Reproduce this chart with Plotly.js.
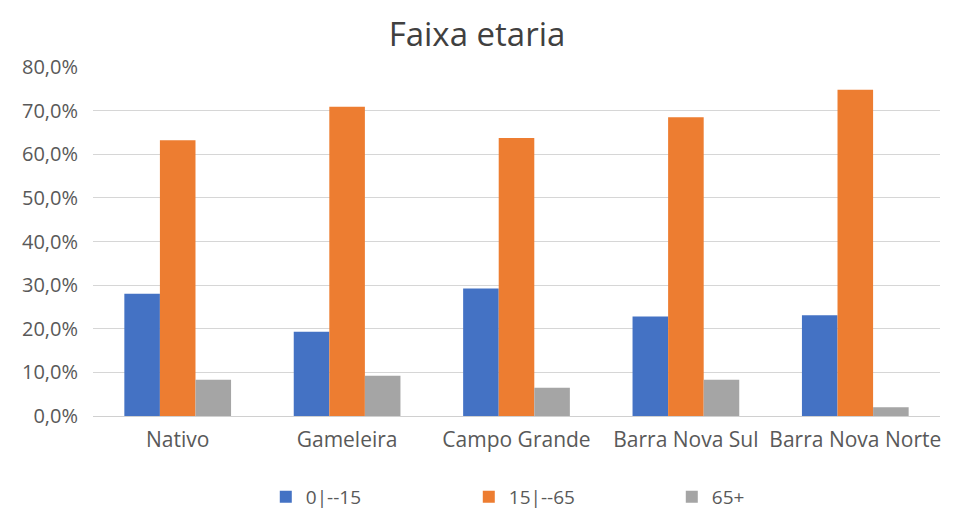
<!DOCTYPE html>
<html>
<head>
<meta charset="utf-8">
<script src="https://cdn.plot.ly/plotly-3.0.1.min.js"></script>
<style>html,body{margin:0;padding:0;background:#fff;}#chart{width:954px;height:529px;}</style>
</head>
<body>
<div id="chart"></div>
<script>
const categories = ["Nativo", "Gameleira", "Campo Grande", "Barra Nova Sul", "Barra Nova Norte"];
const seriesNames = ["0|--15", "15|--65", "65+"];
const v0_15 = [0.280, 0.193, 0.292, 0.228, 0.231];
const v15_65 = [0.632, 0.709, 0.637, 0.685, 0.748];
const v65 = [0.083, 0.092, 0.065, 0.083, 0.020];
const yTickVals = [0, 0.1, 0.2, 0.3, 0.4, 0.5, 0.6, 0.7, 0.8];
const yTickText = ["0,0%", "10,0%", "20,0%", "30,0%", "40,0%", "50,0%", "60,0%", "70,0%", "80,0%"];
const colors = ["#4472C4", "#ED7D31", "#A5A5A5"];

const allValues = [v0_15, v15_65, v65];
const traces = allValues.map((vals, i) => ({
  type: "bar",
  name: seriesNames[i],
  x: categories,
  y: vals,
  marker: {color: colors[i]},
  hoverinfo: "x+y+name"
}));

const font = "'Open Sans', 'Liberation Sans', sans-serif";
const layout = {
  width: 954, height: 529,
  margin: {l: 93, r: 14, t: 67, b: 113},
  paper_bgcolor: "#fff", plot_bgcolor: "#fff",
  title: {text: "Faixa etaria", x: 0.5, xanchor: "center", y: 0.935, yanchor: "middle",
          font: {family: font, size: 33, color: "#404040"}},
  barmode: "group", bargap: 0.37, bargroupgap: 0,
  xaxis: {tickfont: {family: font, size: 21, color: "#595959"}, showgrid: false,
          showline: true, linecolor: "#d0d0d0", ticks: "", ticklabelstandoff: 5},
  yaxis: {range: [0, 0.8], tickvals: yTickVals, ticktext: yTickText,
          tickfont: {family: font, size: 20, color: "#595959"},
          showgrid: true, gridcolor: "#d6d6d6", zeroline: false, ticks: "", ticklabelstandoff: 14},
  legend: {orientation: "h", x: 0.204, xanchor: "left", y: -0.232, yanchor: "middle",
           entrywidth: 158, font: {family: font, size: 19, color: "#595959"}},
  showlegend: true
};
Plotly.newPlot("chart", traces, layout, {displayModeBar: false, staticPlot: true});
</script>
</body>
</html>
